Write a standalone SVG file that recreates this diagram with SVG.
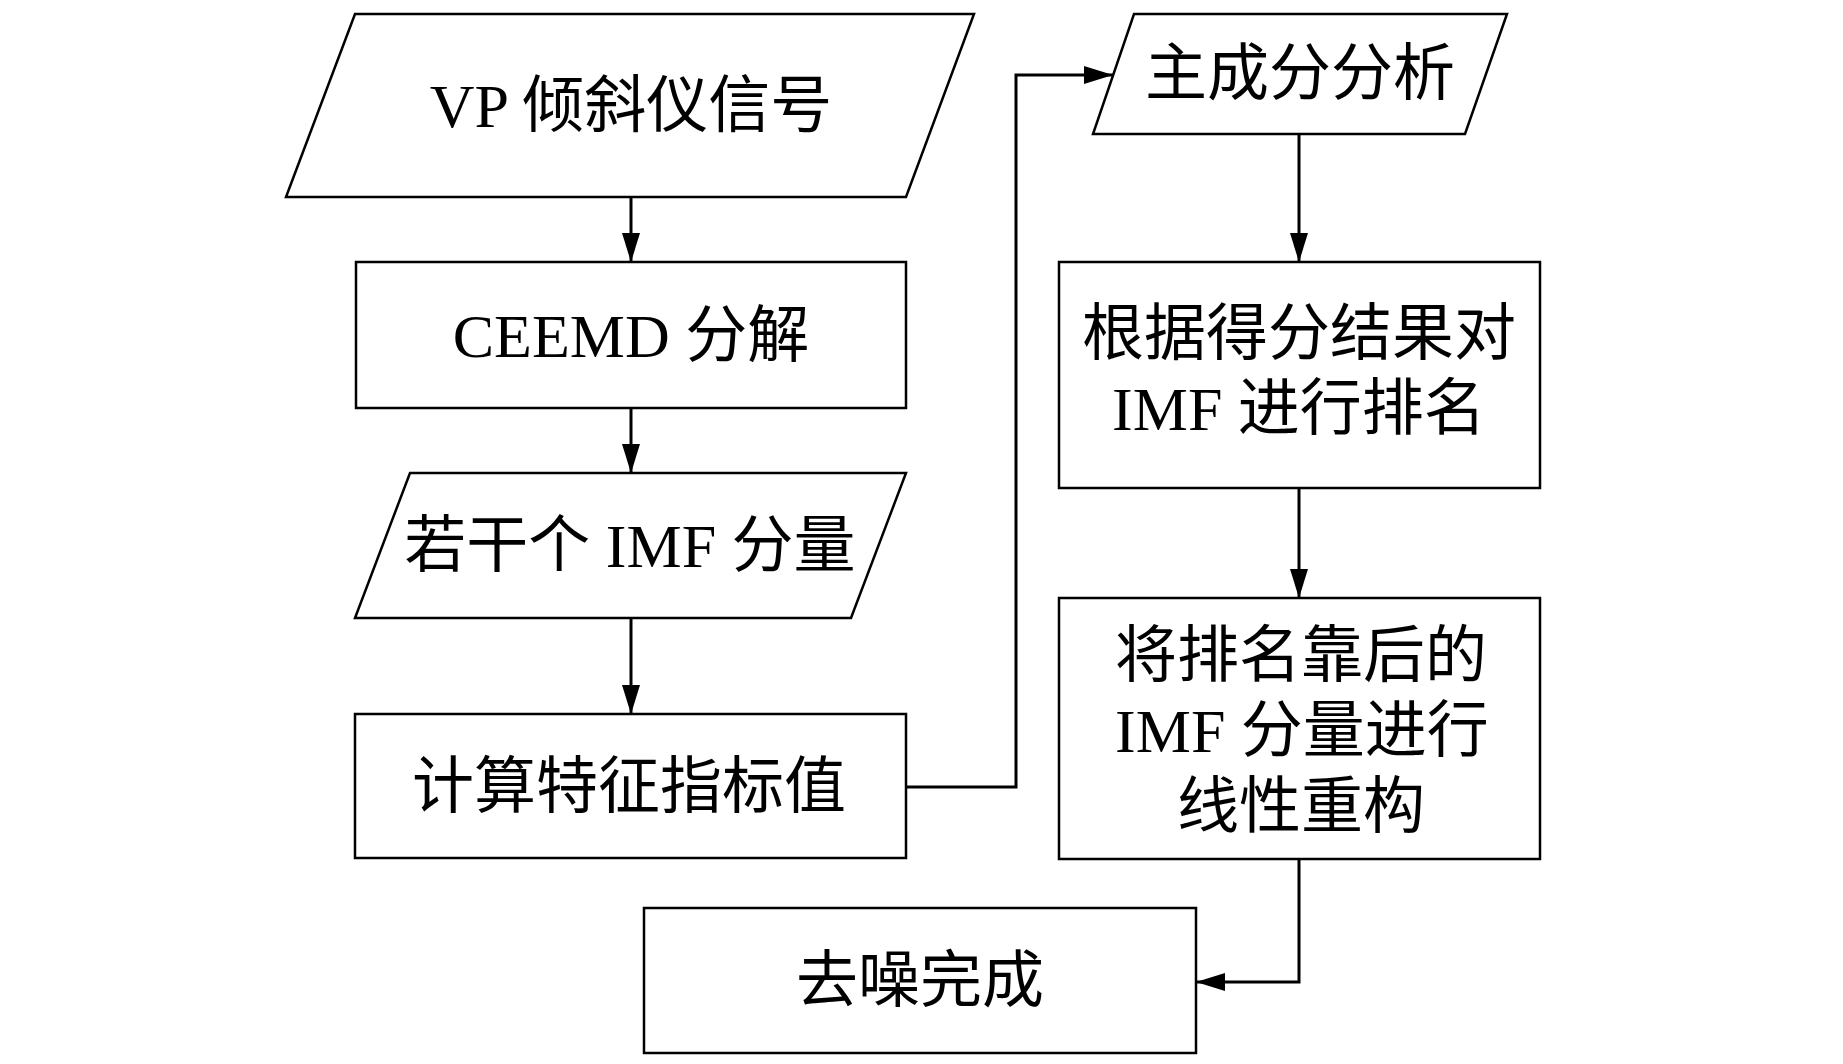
<svg xmlns="http://www.w3.org/2000/svg" width="1843" height="1064" viewBox="0 0 1843 1064">
  <style>
    .shape { fill: #ffffff; stroke: #000000; stroke-width: 2.5; stroke-linejoin: miter; }
    .conn { fill: none; stroke: #000000; stroke-width: 3; marker-end: url(#arrow); }
    .lbl { font-family: "Liberation Serif", "Noto Sans CJK SC", serif; font-size: 62px; fill: #000000; text-anchor: middle; }
  </style>
  <defs>
    <marker id="arrow" markerUnits="userSpaceOnUse" markerWidth="30" markerHeight="18" refX="29" refY="9" orient="auto">
      <path d="M0,0 L29,9 L0,18 Z" fill="#000000"/>
    </marker>
  </defs>
  <rect x="0" y="0" width="1843" height="1064" fill="#ffffff"/>

  <g id="connectors">
    <polyline class="conn" points="631,197 631,262"/>
    <polyline class="conn" points="631,408 631,473"/>
    <polyline class="conn" points="631,618 631,714"/>
    <polyline class="conn" points="906,787 1016,787 1016,75 1113,75"/>
    <polyline class="conn" points="1299,134 1299,262"/>
    <polyline class="conn" points="1299,488 1299,598"/>
    <polyline class="conn" points="1299,859 1299,982 1196,982"/>
  </g>

  <g id="node-vp-signal">
    <polygon class="shape" points="355,14 974,14 906,197 286,197"/>
    <text class="lbl" x="631" y="127">VP 倾斜仪信号</text>
  </g>

  <g id="node-ceemd">
    <rect class="shape" x="356" y="262" width="550" height="146"/>
    <text class="lbl" x="631" y="357">CEEMD 分解</text>
  </g>

  <g id="node-imf">
    <polygon class="shape" points="410,473 906,473 851,618 355,618"/>
    <text class="lbl" x="630" y="567">若干个 IMF 分量</text>
  </g>

  <g id="node-feature">
    <rect class="shape" x="355" y="714" width="551" height="144"/>
    <text class="lbl" x="629" y="808">计算特征指标值</text>
  </g>

  <g id="node-pca">
    <polygon class="shape" points="1134,14 1507,14 1465,134 1093,134"/>
    <text class="lbl" x="1300" y="95">主成分分析</text>
  </g>

  <g id="node-rank">
    <rect class="shape" x="1059" y="262" width="481" height="226"/>
    <text class="lbl" x="1299" y="355">根据得分结果对</text>
    <text class="lbl" x="1299" y="430">IMF 进行排名</text>
  </g>

  <g id="node-reconstruct">
    <rect class="shape" x="1059" y="598" width="481" height="261"/>
    <text class="lbl" x="1301" y="677">将排名靠后的</text>
    <text class="lbl" x="1302" y="752">IMF 分量进行</text>
    <text class="lbl" x="1301" y="828">线性重构</text>
  </g>

  <g id="node-done">
    <rect class="shape" x="644" y="908" width="552" height="145"/>
    <text class="lbl" x="920" y="1002">去噪完成</text>
  </g>
</svg>
